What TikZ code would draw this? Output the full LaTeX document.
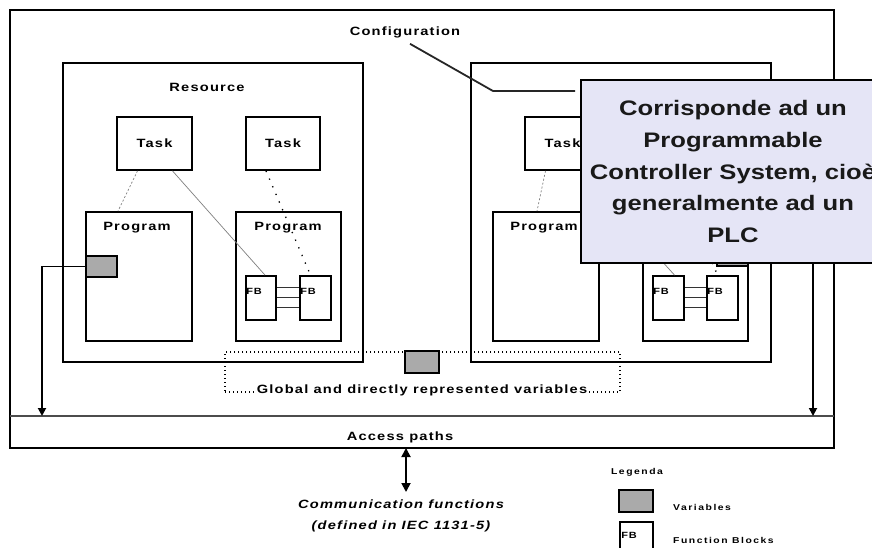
\documentclass[tikz,border=0pt]{standalone}
\usepackage{fontspec}
\setmainfont{Liberation Sans}
\newfontfamily\lblfont[FakeStretch=1.22,LetterSpace=10]{Liberation Sans}
\newfontfamily\smallfont[FakeStretch=1.22,LetterSpace=18]{Liberation Sans}
\newfontfamily\callfont[FakeStretch=1.22]{Liberation Sans}
\usetikzlibrary{arrows.meta,calc,fit}
\definecolor{calloutfill}{RGB}{229,229,246}
\definecolor{varfill}{RGB}{170,170,170}
\tikzset{
  box/.style={draw=black, line width=1.8pt, inner sep=0pt, fill=white},
  varbox/.style={draw=black, line width=1.8pt, inner sep=0pt, fill=varfill},
  lbl/.style={font=\lblfont\bfseries\fontsize{12}{14}\selectfont, inner sep=0pt},
  fblbl/.style={font=\lblfont\bfseries\fontsize{9}{10}\selectfont, inner sep=0pt},
  leglbl/.style={font=\smallfont\bfseries\fontsize{8.5}{10}\selectfont, inner sep=0pt},
  arr/.style={line width=1.8pt, -{Triangle[length=8pt,width=8pt]}},
  dblarr/.style={line width=1.8pt, {Triangle[length=9pt,width=9pt]}-{Triangle[length=9pt,width=9pt]}},
  grayline/.style={draw=gray, line width=0.7pt},
  graydash/.style={draw=gray, line width=0.7pt, dash pattern=on 2pt off 2pt},
  dotline/.style={draw=black, line width=1.3pt, dash pattern=on 1.3pt off 7pt},
  glbdot/.style={draw=black, line width=1.4pt, dash pattern=on 1.4pt off 2.6pt},
  fbwire/.style={draw=black!80, line width=1.2pt},
}
\begin{document}
\begin{tikzpicture}[x=1pt,y=-1pt]
\useasboundingbox (0,0) rectangle (872,548);
\fill[white] (0,0) rectangle (872,548);

% Configuration
\node[box, fill=none, fit={(10,10) (834,448)}] (config) {};
\coordinate (accW) at (10,416);
\coordinate (accE) at (834,416);
\draw[line width=2.6pt, draw=black!70] (accW) -- (accE);
\node[lbl] (cfglbl) at (405,32) {Configuration};

% ---------- Left resource ----------
\node[box, fit={(63,63) (363,362)}] (rL) {};
\node[lbl] (rLlbl) at (207,87) {Resource};
\node[box, fit={(117,117) (192,170)}] (tL1) {};
\node[lbl] at (tL1.center) {Task};
\node[box, fit={(246,117) (320,170)}] (tL2) {};
\node[lbl] at (tL2.center) {Task};
\node[box, fit={(86,212) (192,341)}] (pL1) {};
\node[lbl] at (137,228) {Program};
\node[box, fit={(236,212) (341,341)}] (pL2) {};
\node[lbl] at (288,228) {Program};
\node[box, fit={(246,276) (276,320)}] (fbL1) {};
\node[box, fit={(300,276) (331,320)}] (fbL2) {};
\node[fblbl, anchor=west] at ([xshift=1pt,yshift=-16pt]fbL1.north west) {FB};
\node[fblbl, anchor=west] at ([xshift=1pt,yshift=-16pt]fbL2.north west) {FB};
\foreach \d in {12,22,32}
  \draw[fbwire] ([yshift=-\d pt]fbL1.north east) -- ([yshift=-\d pt]fbL2.north west);
\draw[graydash] ([xshift=-17pt]tL1.south) -- ([xshift=-21pt]pL1.north);
\draw[grayline] ([xshift=18pt]tL1.south) -- ([xshift=4pt]fbL1.north);
\draw[dotline] ([xshift=-17pt]tL2.south) -- ([xshift=-5pt]fbL2.north);
\node[varbox, fit={(86,256) (117,277)}] (varL) {};
\coordinate (accL) at (42,416);
\draw[arr] (varL.west) -| (accL);

% ---------- Right resource (mostly under the callout) ----------
\node[box, fit={(471,63) (771,362)}] (rR) {};
\node[box, fit={(525,117) (600,170)}] (tR1) {};
\node[lbl] at (tR1.center) {Task};
\node[box, fit={(654,117) (728,170)}] (tR2) {};
\node[box, fit={(493,212) (599,341)}] (pR1) {};
\node[lbl] at (544,228) {Program};
\node[box, fit={(643,212) (748,341)}] (pR2) {};
\node[box, fit={(653,276) (684,320)}] (fbR1) {};
\node[box, fit={(707,276) (738,320)}] (fbR2) {};
\node[fblbl, anchor=west] at ([xshift=1pt,yshift=-16pt]fbR1.north west) {FB};
\node[fblbl, anchor=west] at ([xshift=1pt,yshift=-16pt]fbR2.north west) {FB};
\foreach \d in {12,22,32}
  \draw[fbwire] ([yshift=-\d pt]fbR1.north east) -- ([yshift=-\d pt]fbR2.north west);
\draw[graydash] ([xshift=-17pt]tR1.south) -- ([xshift=-9pt]pR1.north);
\draw[grayline] ([xshift=18pt]tR1.south) -- ([xshift=6pt]fbR1.north);
\draw[dotline] ([xshift=-17pt]tR2.south) -- ([xshift=-5pt]fbR2.north);
\node[varbox, fit={(717,244) (748,266)}] (varR) {};
\coordinate (accR) at (813,416);
\draw[arr] (varR.east) -| (accR);

% ---------- Global variables ----------
\node[glbdot, inner sep=0pt, fit={(225,352) (620,392)}] (glob) {};
\node[varbox, fit={(405,351) (439,373)}] (varG) {};
\node[lbl, fill=white, inner sep=1pt] (globlbl) at (422,390) {Global and directly represented variables};

% ---------- Access paths ----------
\node[lbl] (acclbl) at (400,437) {Access paths};
\coordinate (cfTop) at (406,448);
\coordinate (cfBot) at (406,492);
\draw[dblarr] (cfTop) -- (cfBot);
\node[lbl, font=\lblfont\bfseries\itshape\fontsize{12}{21}\selectfont, align=center] (comm) at (401,516)
  {Communication functions\\(defined in IEC 1131-5)};

% ---------- Legend ----------
\node[leglbl] (leg) at (637,472) {Legenda};
\node[varbox, fit={(619,490) (653,512)}] (legVar) {};
\node[leglbl, anchor=west] (legVarLbl) at (673,507) {Variables};
\node[box, fit={(620,522) (653,570)}] (legFB) {};
\node[fblbl, anchor=west] at ([xshift=2pt,yshift=-14pt]legFB.north west) {FB};
\node[leglbl, anchor=west] (legFBLbl) at (673,540) {Function Blocks};

% ---------- Configuration leader ----------
\coordinate (cfgBend) at (493,91);
\coordinate (cfgEnd) at (575,91);
\draw[line width=1.8pt, draw=black!85] ([xshift=5pt,yshift=-6pt]cfglbl.south) -- (cfgBend) -- (cfgEnd);

% ---------- Callout ----------
\node[draw=black, line width=1.8pt, fill=calloutfill, minimum width=304pt, minimum height=183pt,
      inner sep=0pt, align=center, font=\callfont\bfseries\fontsize{21}{31.7}\selectfont, text=black!90]
  (callout) at (733,171.5)
  {Corrisponde ad un\\Programmable\\Controller System, cioè\\generalmente ad un\\PLC};
\end{tikzpicture}
\end{document}
